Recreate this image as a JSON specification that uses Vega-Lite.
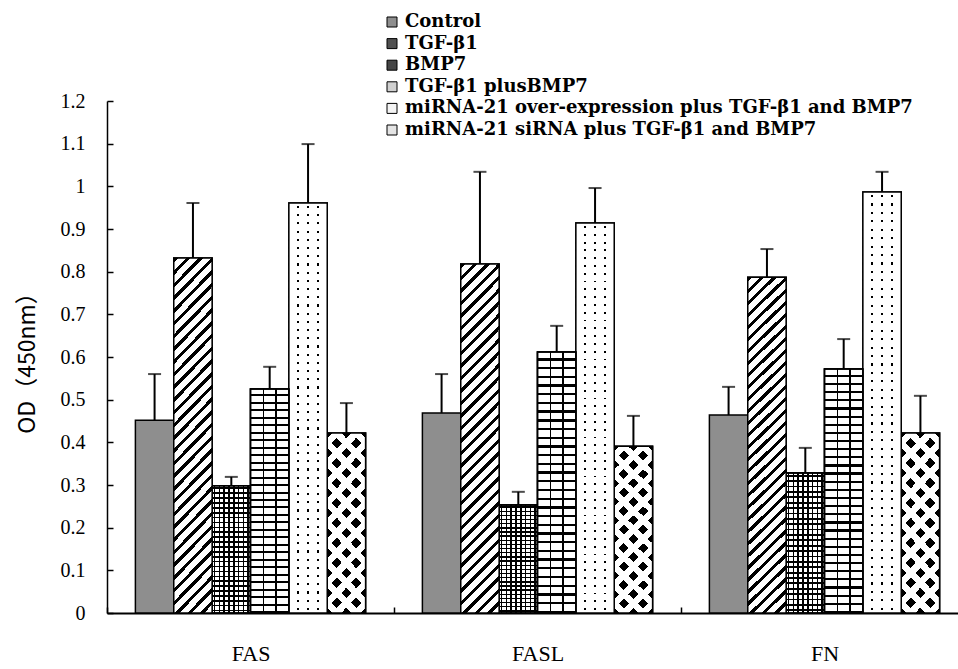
{
  "$schema": "https://vega.github.io/schema/vega-lite/v6.json",
  "autosize": "none",
  "padding": {"left": 107, "top": 101, "right": 0, "bottom": 56},
  "width": 851,
  "height": 512,
  "background": "white",
  "config": {
    "view": {"stroke": null},
    "axis": {"domainColor": "black", "tickColor": "black", "labelColor": "black", "titleColor": "black", "grid": false}
  },
  "data": {
    "values": [
      {"gene": "FAS", "group": "Control", "value": 0.452, "upper": 0.560},
      {"gene": "FAS", "group": "TGF-β1", "value": 0.832, "upper": 0.961},
      {"gene": "FAS", "group": "BMP7", "value": 0.298, "upper": 0.319},
      {"gene": "FAS", "group": "TGF-β1 plusBMP7", "value": 0.525, "upper": 0.577},
      {"gene": "FAS", "group": "miRNA-21 over-expression plus TGF-β1 and BMP7", "value": 0.961, "upper": 1.099},
      {"gene": "FAS", "group": "miRNA-21 siRNA plus TGF-β1 and BMP7", "value": 0.422, "upper": 0.492},
      {"gene": "FASL", "group": "Control", "value": 0.469, "upper": 0.560},
      {"gene": "FASL", "group": "TGF-β1", "value": 0.818, "upper": 1.034},
      {"gene": "FASL", "group": "BMP7", "value": 0.253, "upper": 0.284},
      {"gene": "FASL", "group": "TGF-β1 plusBMP7", "value": 0.612, "upper": 0.673},
      {"gene": "FASL", "group": "miRNA-21 over-expression plus TGF-β1 and BMP7", "value": 0.914, "upper": 0.996},
      {"gene": "FASL", "group": "miRNA-21 siRNA plus TGF-β1 and BMP7", "value": 0.391, "upper": 0.462},
      {"gene": "FN", "group": "Control", "value": 0.464, "upper": 0.530},
      {"gene": "FN", "group": "TGF-β1", "value": 0.787, "upper": 0.853},
      {"gene": "FN", "group": "BMP7", "value": 0.328, "upper": 0.387},
      {"gene": "FN", "group": "TGF-β1 plusBMP7", "value": 0.572, "upper": 0.642},
      {"gene": "FN", "group": "miRNA-21 over-expression plus TGF-β1 and BMP7", "value": 0.987, "upper": 1.034},
      {"gene": "FN", "group": "miRNA-21 siRNA plus TGF-β1 and BMP7", "value": 0.422, "upper": 0.509}
    ]
  },
  "encoding": {
    "x": {
      "field": "gene", "type": "nominal", "sort": ["FAS", "FASL", "FN"],
      "scale": {"range": [0, 861], "paddingInner": 0, "paddingOuter": 0},
      "axis": {
        "title": null, "labelAngle": 0, "tickBand": "extent", "tickSize": -6, "tickWidth": 1.5,
        "domainWidth": 2, "labelFont": "Liberation Serif", "labelFontSize": 22, "labelPadding": 36
      }
    },
    "xOffset": {
      "field": "group", "type": "nominal",
      "sort": ["Control", "TGF-β1", "BMP7", "TGF-β1 plusBMP7", "miRNA-21 over-expression plus TGF-β1 and BMP7", "miRNA-21 siRNA plus TGF-β1 and BMP7"],
      "scale": {"paddingInner": 0, "paddingOuter": 0.74}
    },
    "y": {"field": "value", "type": "quantitative"}
  },
  "layer": [
    {
      "mark": {"type": "bar", "stroke": "black", "strokeWidth": 1.5},
      "encoding": {
        "y": {
          "field": "value", "type": "quantitative",
          "scale": {"domain": [0, 1.2], "nice": false, "zero": true},
          "axis": {
            "title": "OD（450nm）", "titleFont": "Noto Sans CJK SC", "titleFontSize": 23, "titleFontWeight": "normal", "titlePadding": 21,
            "values": [0, 0.1, 0.2, 0.3, 0.4, 0.5, 0.6, 0.7, 0.8, 0.9, 1, 1.1, 1.2], "format": "~g",
            "tickSize": -6, "tickWidth": 1.5, "domainWidth": 1.5,
            "labelFont": "Liberation Serif", "labelFontSize": 20, "labelPadding": 28
          }
        },
        "fill": {
          "field": "group", "type": "nominal",
          "sort": ["Control", "TGF-β1", "BMP7", "TGF-β1 plusBMP7", "miRNA-21 over-expression plus TGF-β1 and BMP7", "miRNA-21 siRNA plus TGF-β1 and BMP7"],
          "scale": {"range": ["#8e8e8e", "#505050", "#454545", "#d0d0d0", "#f4f4f4", "#e4e4e4"]},
          "legend": {
            "orient": "none", "legendX": 276, "legendY": -88, "title": null,
            "symbolType": "square", "symbolSize": 100, "symbolStrokeColor": "black", "symbolStrokeWidth": 1,
            "labelFont": "DejaVu Serif", "labelFontSize": 18, "labelFontWeight": "bold", "labelColor": "black", "labelLimit": 800,
            "rowPadding": 3.6, "labelOffset": 4
          }
        }
      }
    },
    {
      "transform": [{"filter": {"field": "group", "equal": "BMP7"}}],
      "mark": {"type": "bar", "fill": "white", "stroke": "black", "strokeWidth": 1.5}
    },
    {
      "transform": [{"filter": {"field": "group", "equal": "BMP7"}}],
      "mark": {
        "type": "bar", "strokeWidth": 0,
        "fill": {
          "gradient": "linear", "x1": 0, "y1": 0, "x2": 1, "y2": 0,
          "stops": [
            {"offset": 0.0415, "color": "transparent"}, {"offset": 0.0415, "color": "black"}, {"offset": 0.0835, "color": "black"}, {"offset": 0.0835, "color": "transparent"},
            {"offset": 0.1665, "color": "transparent"}, {"offset": 0.1665, "color": "black"}, {"offset": 0.2085, "color": "black"}, {"offset": 0.2085, "color": "transparent"},
            {"offset": 0.2915, "color": "transparent"}, {"offset": 0.2915, "color": "black"}, {"offset": 0.3335, "color": "black"}, {"offset": 0.3335, "color": "transparent"},
            {"offset": 0.4165, "color": "transparent"}, {"offset": 0.4165, "color": "black"}, {"offset": 0.4585, "color": "black"}, {"offset": 0.4585, "color": "transparent"},
            {"offset": 0.5415, "color": "transparent"}, {"offset": 0.5415, "color": "black"}, {"offset": 0.5835, "color": "black"}, {"offset": 0.5835, "color": "transparent"},
            {"offset": 0.6665, "color": "transparent"}, {"offset": 0.6665, "color": "black"}, {"offset": 0.7085, "color": "black"}, {"offset": 0.7085, "color": "transparent"},
            {"offset": 0.7915, "color": "transparent"}, {"offset": 0.7915, "color": "black"}, {"offset": 0.8335, "color": "black"}, {"offset": 0.8335, "color": "transparent"},
            {"offset": 0.9165, "color": "transparent"}, {"offset": 0.9165, "color": "black"}, {"offset": 0.9585, "color": "black"}, {"offset": 0.9585, "color": "transparent"}
          ]
        }
      }
    },
    {
      "transform": [{"filter": {"field": "group", "equal": "BMP7"}}],
      "mark": {
        "type": "bar", "stroke": "black", "strokeWidth": 1.5,
        "fill": {
          "gradient": "linear", "x1": 0, "y1": 0, "x2": 0, "y2": 1,
          "stops": [
            {"offset": 0.0128, "color": "transparent"}, {"offset": 0.0128, "color": "black"}, {"offset": 0.0255, "color": "black"}, {"offset": 0.0255, "color": "transparent"},
            {"offset": 0.0513, "color": "transparent"}, {"offset": 0.0513, "color": "black"}, {"offset": 0.0640, "color": "black"}, {"offset": 0.0640, "color": "transparent"},
            {"offset": 0.0897, "color": "transparent"}, {"offset": 0.0897, "color": "black"}, {"offset": 0.1024, "color": "black"}, {"offset": 0.1024, "color": "transparent"},
            {"offset": 0.1282, "color": "transparent"}, {"offset": 0.1282, "color": "black"}, {"offset": 0.1409, "color": "black"}, {"offset": 0.1409, "color": "transparent"},
            {"offset": 0.1667, "color": "transparent"}, {"offset": 0.1667, "color": "black"}, {"offset": 0.1794, "color": "black"}, {"offset": 0.1794, "color": "transparent"},
            {"offset": 0.2051, "color": "transparent"}, {"offset": 0.2051, "color": "black"}, {"offset": 0.2178, "color": "black"}, {"offset": 0.2178, "color": "transparent"},
            {"offset": 0.2436, "color": "transparent"}, {"offset": 0.2436, "color": "black"}, {"offset": 0.2563, "color": "black"}, {"offset": 0.2563, "color": "transparent"},
            {"offset": 0.2820, "color": "transparent"}, {"offset": 0.2820, "color": "black"}, {"offset": 0.2947, "color": "black"}, {"offset": 0.2947, "color": "transparent"},
            {"offset": 0.3205, "color": "transparent"}, {"offset": 0.3205, "color": "black"}, {"offset": 0.3332, "color": "black"}, {"offset": 0.3332, "color": "transparent"},
            {"offset": 0.3590, "color": "transparent"}, {"offset": 0.3590, "color": "black"}, {"offset": 0.3717, "color": "black"}, {"offset": 0.3717, "color": "transparent"},
            {"offset": 0.3974, "color": "transparent"}, {"offset": 0.3974, "color": "black"}, {"offset": 0.4101, "color": "black"}, {"offset": 0.4101, "color": "transparent"},
            {"offset": 0.4359, "color": "transparent"}, {"offset": 0.4359, "color": "black"}, {"offset": 0.4486, "color": "black"}, {"offset": 0.4486, "color": "transparent"},
            {"offset": 0.4743, "color": "transparent"}, {"offset": 0.4743, "color": "black"}, {"offset": 0.4870, "color": "black"}, {"offset": 0.4870, "color": "transparent"},
            {"offset": 0.5128, "color": "transparent"}, {"offset": 0.5128, "color": "black"}, {"offset": 0.5255, "color": "black"}, {"offset": 0.5255, "color": "transparent"},
            {"offset": 0.5513, "color": "transparent"}, {"offset": 0.5513, "color": "black"}, {"offset": 0.5640, "color": "black"}, {"offset": 0.5640, "color": "transparent"},
            {"offset": 0.5897, "color": "transparent"}, {"offset": 0.5897, "color": "black"}, {"offset": 0.6024, "color": "black"}, {"offset": 0.6024, "color": "transparent"},
            {"offset": 0.6282, "color": "transparent"}, {"offset": 0.6282, "color": "black"}, {"offset": 0.6409, "color": "black"}, {"offset": 0.6409, "color": "transparent"},
            {"offset": 0.6667, "color": "transparent"}, {"offset": 0.6667, "color": "black"}, {"offset": 0.6794, "color": "black"}, {"offset": 0.6794, "color": "transparent"},
            {"offset": 0.7051, "color": "transparent"}, {"offset": 0.7051, "color": "black"}, {"offset": 0.7178, "color": "black"}, {"offset": 0.7178, "color": "transparent"},
            {"offset": 0.7436, "color": "transparent"}, {"offset": 0.7436, "color": "black"}, {"offset": 0.7563, "color": "black"}, {"offset": 0.7563, "color": "transparent"},
            {"offset": 0.7820, "color": "transparent"}, {"offset": 0.7820, "color": "black"}, {"offset": 0.7947, "color": "black"}, {"offset": 0.7947, "color": "transparent"},
            {"offset": 0.8205, "color": "transparent"}, {"offset": 0.8205, "color": "black"}, {"offset": 0.8332, "color": "black"}, {"offset": 0.8332, "color": "transparent"},
            {"offset": 0.8590, "color": "transparent"}, {"offset": 0.8590, "color": "black"}, {"offset": 0.8717, "color": "black"}, {"offset": 0.8717, "color": "transparent"},
            {"offset": 0.8974, "color": "transparent"}, {"offset": 0.8974, "color": "black"}, {"offset": 0.9101, "color": "black"}, {"offset": 0.9101, "color": "transparent"},
            {"offset": 0.9359, "color": "transparent"}, {"offset": 0.9359, "color": "black"}, {"offset": 0.9486, "color": "black"}, {"offset": 0.9486, "color": "transparent"},
            {"offset": 0.9743, "color": "transparent"}, {"offset": 0.9743, "color": "black"}, {"offset": 0.9870, "color": "black"}, {"offset": 0.9870, "color": "transparent"}
          ]
        }
      }
    },
    {
      "transform": [{"filter": {"field": "group", "equal": "miRNA-21 siRNA plus TGF-β1 and BMP7"}}],
      "mark": {"type": "bar", "fill": "black", "strokeWidth": 0}
    },
    {
      "transform": [{"filter": {"field": "group", "equal": "miRNA-21 siRNA plus TGF-β1 and BMP7"}}],
      "mark": {
        "type": "bar", "strokeWidth": 0,
        "fill": {
          "gradient": "linear", "x1": 0, "y1": 0, "x2": 0.2552, "y2": 1.1635,
          "stops": [
            {"offset": 0.0241, "color": "transparent"}, {"offset": 0.0241, "color": "white"}, {"offset": 0.0668, "color": "white"}, {"offset": 0.0668, "color": "transparent"},
            {"offset": 0.1150, "color": "transparent"}, {"offset": 0.1150, "color": "white"}, {"offset": 0.1577, "color": "white"}, {"offset": 0.1577, "color": "transparent"},
            {"offset": 0.2059, "color": "transparent"}, {"offset": 0.2059, "color": "white"}, {"offset": 0.2486, "color": "white"}, {"offset": 0.2486, "color": "transparent"},
            {"offset": 0.2968, "color": "transparent"}, {"offset": 0.2968, "color": "white"}, {"offset": 0.3395, "color": "white"}, {"offset": 0.3395, "color": "transparent"},
            {"offset": 0.3877, "color": "transparent"}, {"offset": 0.3877, "color": "white"}, {"offset": 0.4304, "color": "white"}, {"offset": 0.4304, "color": "transparent"},
            {"offset": 0.4786, "color": "transparent"}, {"offset": 0.4786, "color": "white"}, {"offset": 0.5213, "color": "white"}, {"offset": 0.5213, "color": "transparent"},
            {"offset": 0.5695, "color": "transparent"}, {"offset": 0.5695, "color": "white"}, {"offset": 0.6122, "color": "white"}, {"offset": 0.6122, "color": "transparent"},
            {"offset": 0.6604, "color": "transparent"}, {"offset": 0.6604, "color": "white"}, {"offset": 0.7031, "color": "white"}, {"offset": 0.7031, "color": "transparent"},
            {"offset": 0.7513, "color": "transparent"}, {"offset": 0.7513, "color": "white"}, {"offset": 0.7940, "color": "white"}, {"offset": 0.7940, "color": "transparent"},
            {"offset": 0.8422, "color": "transparent"}, {"offset": 0.8422, "color": "white"}, {"offset": 0.8849, "color": "white"}, {"offset": 0.8849, "color": "transparent"},
            {"offset": 0.9331, "color": "transparent"}, {"offset": 0.9331, "color": "white"}, {"offset": 0.9758, "color": "white"}, {"offset": 0.9758, "color": "transparent"}
          ]
        }
      }
    },
    {
      "transform": [{"filter": {"field": "group", "equal": "miRNA-21 siRNA plus TGF-β1 and BMP7"}}],
      "mark": {
        "type": "bar", "stroke": "black", "strokeWidth": 1.5,
        "fill": {
          "gradient": "linear", "x1": 1, "y1": 0, "x2": 0.7448, "y2": 1.1635,
          "stops": [
            {"offset": 0.0241, "color": "transparent"}, {"offset": 0.0241, "color": "white"}, {"offset": 0.0668, "color": "white"}, {"offset": 0.0668, "color": "transparent"},
            {"offset": 0.1150, "color": "transparent"}, {"offset": 0.1150, "color": "white"}, {"offset": 0.1577, "color": "white"}, {"offset": 0.1577, "color": "transparent"},
            {"offset": 0.2059, "color": "transparent"}, {"offset": 0.2059, "color": "white"}, {"offset": 0.2486, "color": "white"}, {"offset": 0.2486, "color": "transparent"},
            {"offset": 0.2968, "color": "transparent"}, {"offset": 0.2968, "color": "white"}, {"offset": 0.3395, "color": "white"}, {"offset": 0.3395, "color": "transparent"},
            {"offset": 0.3877, "color": "transparent"}, {"offset": 0.3877, "color": "white"}, {"offset": 0.4304, "color": "white"}, {"offset": 0.4304, "color": "transparent"},
            {"offset": 0.4786, "color": "transparent"}, {"offset": 0.4786, "color": "white"}, {"offset": 0.5213, "color": "white"}, {"offset": 0.5213, "color": "transparent"},
            {"offset": 0.5695, "color": "transparent"}, {"offset": 0.5695, "color": "white"}, {"offset": 0.6122, "color": "white"}, {"offset": 0.6122, "color": "transparent"},
            {"offset": 0.6604, "color": "transparent"}, {"offset": 0.6604, "color": "white"}, {"offset": 0.7031, "color": "white"}, {"offset": 0.7031, "color": "transparent"},
            {"offset": 0.7513, "color": "transparent"}, {"offset": 0.7513, "color": "white"}, {"offset": 0.7940, "color": "white"}, {"offset": 0.7940, "color": "transparent"},
            {"offset": 0.8422, "color": "transparent"}, {"offset": 0.8422, "color": "white"}, {"offset": 0.8849, "color": "white"}, {"offset": 0.8849, "color": "transparent"},
            {"offset": 0.9331, "color": "transparent"}, {"offset": 0.9331, "color": "white"}, {"offset": 0.9758, "color": "white"}, {"offset": 0.9758, "color": "transparent"}
          ]
        }
      }
    },
    {
      "transform": [{"filter": {"field": "group", "equal": "miRNA-21 over-expression plus TGF-β1 and BMP7"}}],
      "mark": {"type": "bar", "fill": "black", "strokeWidth": 0}
    },
    {
      "transform": [{"filter": {"field": "group", "equal": "miRNA-21 over-expression plus TGF-β1 and BMP7"}}],
      "mark": {
        "type": "bar", "strokeWidth": 0,
        "fill": {
          "gradient": "linear", "x1": 0, "y1": 0, "x2": 1, "y2": 0,
          "stops": [
            {"offset": 0, "color": "white"}, {"offset": 0.224, "color": "white"}, {"offset": 0.224, "color": "transparent"}, {"offset": 0.276, "color": "transparent"},
            {"offset": 0.276, "color": "white"}, {"offset": 0.474, "color": "white"}, {"offset": 0.474, "color": "transparent"}, {"offset": 0.526, "color": "transparent"},
            {"offset": 0.526, "color": "white"}, {"offset": 0.724, "color": "white"}, {"offset": 0.724, "color": "transparent"}, {"offset": 0.776, "color": "transparent"},
            {"offset": 0.776, "color": "white"}, {"offset": 1, "color": "white"}
          ]
        }
      }
    },
    {
      "transform": [{"filter": {"field": "group", "equal": "miRNA-21 over-expression plus TGF-β1 and BMP7"}}],
      "mark": {
        "type": "bar", "stroke": "black", "strokeWidth": 1.5,
        "fill": {
          "gradient": "linear", "x1": 0, "y1": 0, "x2": 0, "y2": 1,
          "stops": [
            {"offset": 0.0075, "color": "white"}, {"offset": 0.0075, "color": "transparent"}, {"offset": 0.0125, "color": "transparent"}, {"offset": 0.0125, "color": "white"},
            {"offset": 0.0275, "color": "white"}, {"offset": 0.0275, "color": "transparent"}, {"offset": 0.0325, "color": "transparent"}, {"offset": 0.0325, "color": "white"},
            {"offset": 0.0475, "color": "white"}, {"offset": 0.0475, "color": "transparent"}, {"offset": 0.0525, "color": "transparent"}, {"offset": 0.0525, "color": "white"},
            {"offset": 0.0675, "color": "white"}, {"offset": 0.0675, "color": "transparent"}, {"offset": 0.0725, "color": "transparent"}, {"offset": 0.0725, "color": "white"},
            {"offset": 0.0875, "color": "white"}, {"offset": 0.0875, "color": "transparent"}, {"offset": 0.0925, "color": "transparent"}, {"offset": 0.0925, "color": "white"},
            {"offset": 0.1075, "color": "white"}, {"offset": 0.1075, "color": "transparent"}, {"offset": 0.1125, "color": "transparent"}, {"offset": 0.1125, "color": "white"},
            {"offset": 0.1275, "color": "white"}, {"offset": 0.1275, "color": "transparent"}, {"offset": 0.1325, "color": "transparent"}, {"offset": 0.1325, "color": "white"},
            {"offset": 0.1475, "color": "white"}, {"offset": 0.1475, "color": "transparent"}, {"offset": 0.1525, "color": "transparent"}, {"offset": 0.1525, "color": "white"},
            {"offset": 0.1675, "color": "white"}, {"offset": 0.1675, "color": "transparent"}, {"offset": 0.1725, "color": "transparent"}, {"offset": 0.1725, "color": "white"},
            {"offset": 0.1875, "color": "white"}, {"offset": 0.1875, "color": "transparent"}, {"offset": 0.1925, "color": "transparent"}, {"offset": 0.1925, "color": "white"},
            {"offset": 0.2075, "color": "white"}, {"offset": 0.2075, "color": "transparent"}, {"offset": 0.2125, "color": "transparent"}, {"offset": 0.2125, "color": "white"},
            {"offset": 0.2275, "color": "white"}, {"offset": 0.2275, "color": "transparent"}, {"offset": 0.2325, "color": "transparent"}, {"offset": 0.2325, "color": "white"},
            {"offset": 0.2475, "color": "white"}, {"offset": 0.2475, "color": "transparent"}, {"offset": 0.2525, "color": "transparent"}, {"offset": 0.2525, "color": "white"},
            {"offset": 0.2675, "color": "white"}, {"offset": 0.2675, "color": "transparent"}, {"offset": 0.2725, "color": "transparent"}, {"offset": 0.2725, "color": "white"},
            {"offset": 0.2875, "color": "white"}, {"offset": 0.2875, "color": "transparent"}, {"offset": 0.2925, "color": "transparent"}, {"offset": 0.2925, "color": "white"},
            {"offset": 0.3075, "color": "white"}, {"offset": 0.3075, "color": "transparent"}, {"offset": 0.3125, "color": "transparent"}, {"offset": 0.3125, "color": "white"},
            {"offset": 0.3275, "color": "white"}, {"offset": 0.3275, "color": "transparent"}, {"offset": 0.3325, "color": "transparent"}, {"offset": 0.3325, "color": "white"},
            {"offset": 0.3475, "color": "white"}, {"offset": 0.3475, "color": "transparent"}, {"offset": 0.3525, "color": "transparent"}, {"offset": 0.3525, "color": "white"},
            {"offset": 0.3675, "color": "white"}, {"offset": 0.3675, "color": "transparent"}, {"offset": 0.3725, "color": "transparent"}, {"offset": 0.3725, "color": "white"},
            {"offset": 0.3875, "color": "white"}, {"offset": 0.3875, "color": "transparent"}, {"offset": 0.3925, "color": "transparent"}, {"offset": 0.3925, "color": "white"},
            {"offset": 0.4075, "color": "white"}, {"offset": 0.4075, "color": "transparent"}, {"offset": 0.4125, "color": "transparent"}, {"offset": 0.4125, "color": "white"},
            {"offset": 0.4275, "color": "white"}, {"offset": 0.4275, "color": "transparent"}, {"offset": 0.4325, "color": "transparent"}, {"offset": 0.4325, "color": "white"},
            {"offset": 0.4475, "color": "white"}, {"offset": 0.4475, "color": "transparent"}, {"offset": 0.4525, "color": "transparent"}, {"offset": 0.4525, "color": "white"},
            {"offset": 0.4675, "color": "white"}, {"offset": 0.4675, "color": "transparent"}, {"offset": 0.4725, "color": "transparent"}, {"offset": 0.4725, "color": "white"},
            {"offset": 0.4875, "color": "white"}, {"offset": 0.4875, "color": "transparent"}, {"offset": 0.4925, "color": "transparent"}, {"offset": 0.4925, "color": "white"},
            {"offset": 0.5075, "color": "white"}, {"offset": 0.5075, "color": "transparent"}, {"offset": 0.5125, "color": "transparent"}, {"offset": 0.5125, "color": "white"},
            {"offset": 0.5275, "color": "white"}, {"offset": 0.5275, "color": "transparent"}, {"offset": 0.5325, "color": "transparent"}, {"offset": 0.5325, "color": "white"},
            {"offset": 0.5475, "color": "white"}, {"offset": 0.5475, "color": "transparent"}, {"offset": 0.5525, "color": "transparent"}, {"offset": 0.5525, "color": "white"},
            {"offset": 0.5675, "color": "white"}, {"offset": 0.5675, "color": "transparent"}, {"offset": 0.5725, "color": "transparent"}, {"offset": 0.5725, "color": "white"},
            {"offset": 0.5875, "color": "white"}, {"offset": 0.5875, "color": "transparent"}, {"offset": 0.5925, "color": "transparent"}, {"offset": 0.5925, "color": "white"},
            {"offset": 0.6075, "color": "white"}, {"offset": 0.6075, "color": "transparent"}, {"offset": 0.6125, "color": "transparent"}, {"offset": 0.6125, "color": "white"},
            {"offset": 0.6275, "color": "white"}, {"offset": 0.6275, "color": "transparent"}, {"offset": 0.6325, "color": "transparent"}, {"offset": 0.6325, "color": "white"},
            {"offset": 0.6475, "color": "white"}, {"offset": 0.6475, "color": "transparent"}, {"offset": 0.6525, "color": "transparent"}, {"offset": 0.6525, "color": "white"},
            {"offset": 0.6675, "color": "white"}, {"offset": 0.6675, "color": "transparent"}, {"offset": 0.6725, "color": "transparent"}, {"offset": 0.6725, "color": "white"},
            {"offset": 0.6875, "color": "white"}, {"offset": 0.6875, "color": "transparent"}, {"offset": 0.6925, "color": "transparent"}, {"offset": 0.6925, "color": "white"},
            {"offset": 0.7075, "color": "white"}, {"offset": 0.7075, "color": "transparent"}, {"offset": 0.7125, "color": "transparent"}, {"offset": 0.7125, "color": "white"},
            {"offset": 0.7275, "color": "white"}, {"offset": 0.7275, "color": "transparent"}, {"offset": 0.7325, "color": "transparent"}, {"offset": 0.7325, "color": "white"},
            {"offset": 0.7475, "color": "white"}, {"offset": 0.7475, "color": "transparent"}, {"offset": 0.7525, "color": "transparent"}, {"offset": 0.7525, "color": "white"},
            {"offset": 0.7675, "color": "white"}, {"offset": 0.7675, "color": "transparent"}, {"offset": 0.7725, "color": "transparent"}, {"offset": 0.7725, "color": "white"},
            {"offset": 0.7875, "color": "white"}, {"offset": 0.7875, "color": "transparent"}, {"offset": 0.7925, "color": "transparent"}, {"offset": 0.7925, "color": "white"},
            {"offset": 0.8075, "color": "white"}, {"offset": 0.8075, "color": "transparent"}, {"offset": 0.8125, "color": "transparent"}, {"offset": 0.8125, "color": "white"},
            {"offset": 0.8275, "color": "white"}, {"offset": 0.8275, "color": "transparent"}, {"offset": 0.8325, "color": "transparent"}, {"offset": 0.8325, "color": "white"},
            {"offset": 0.8475, "color": "white"}, {"offset": 0.8475, "color": "transparent"}, {"offset": 0.8525, "color": "transparent"}, {"offset": 0.8525, "color": "white"},
            {"offset": 0.8675, "color": "white"}, {"offset": 0.8675, "color": "transparent"}, {"offset": 0.8725, "color": "transparent"}, {"offset": 0.8725, "color": "white"},
            {"offset": 0.8875, "color": "white"}, {"offset": 0.8875, "color": "transparent"}, {"offset": 0.8925, "color": "transparent"}, {"offset": 0.8925, "color": "white"},
            {"offset": 0.9075, "color": "white"}, {"offset": 0.9075, "color": "transparent"}, {"offset": 0.9125, "color": "transparent"}, {"offset": 0.9125, "color": "white"},
            {"offset": 0.9275, "color": "white"}, {"offset": 0.9275, "color": "transparent"}, {"offset": 0.9325, "color": "transparent"}, {"offset": 0.9325, "color": "white"},
            {"offset": 0.9475, "color": "white"}, {"offset": 0.9475, "color": "transparent"}, {"offset": 0.9525, "color": "transparent"}, {"offset": 0.9525, "color": "white"},
            {"offset": 0.9675, "color": "white"}, {"offset": 0.9675, "color": "transparent"}, {"offset": 0.9725, "color": "transparent"}, {"offset": 0.9725, "color": "white"},
            {"offset": 0.9875, "color": "white"}, {"offset": 0.9875, "color": "transparent"}, {"offset": 0.9925, "color": "transparent"}, {"offset": 0.9925, "color": "white"}
          ]
        }
      }
    },
    {
      "transform": [{"filter": {"field": "group", "equal": "TGF-β1"}}],
      "mark": {
        "type": "bar", "stroke": "black", "strokeWidth": 1.5,
        "fill": {
          "gradient": "linear", "x1": 0, "y1": 0, "x2": 0.1215, "y2": 1.097,
          "stops": [
            {"offset": 0, "color": "black"}, {"offset": 0.0116, "color": "black"}, {"offset": 0.0116, "color": "white"}, {"offset": 0.0323, "color": "white"},
            {"offset": 0.0323, "color": "black"}, {"offset": 0.0439, "color": "black"}, {"offset": 0.0439, "color": "white"}, {"offset": 0.0645, "color": "white"},
            {"offset": 0.0645, "color": "black"}, {"offset": 0.0761, "color": "black"}, {"offset": 0.0761, "color": "white"}, {"offset": 0.0968, "color": "white"},
            {"offset": 0.0968, "color": "black"}, {"offset": 0.1084, "color": "black"}, {"offset": 0.1084, "color": "white"}, {"offset": 0.1290, "color": "white"},
            {"offset": 0.1290, "color": "black"}, {"offset": 0.1406, "color": "black"}, {"offset": 0.1406, "color": "white"}, {"offset": 0.1613, "color": "white"},
            {"offset": 0.1613, "color": "black"}, {"offset": 0.1729, "color": "black"}, {"offset": 0.1729, "color": "white"}, {"offset": 0.1935, "color": "white"},
            {"offset": 0.1935, "color": "black"}, {"offset": 0.2052, "color": "black"}, {"offset": 0.2052, "color": "white"}, {"offset": 0.2258, "color": "white"},
            {"offset": 0.2258, "color": "black"}, {"offset": 0.2374, "color": "black"}, {"offset": 0.2374, "color": "white"}, {"offset": 0.2581, "color": "white"},
            {"offset": 0.2581, "color": "black"}, {"offset": 0.2697, "color": "black"}, {"offset": 0.2697, "color": "white"}, {"offset": 0.2903, "color": "white"},
            {"offset": 0.2903, "color": "black"}, {"offset": 0.3019, "color": "black"}, {"offset": 0.3019, "color": "white"}, {"offset": 0.3226, "color": "white"},
            {"offset": 0.3226, "color": "black"}, {"offset": 0.3342, "color": "black"}, {"offset": 0.3342, "color": "white"}, {"offset": 0.3548, "color": "white"},
            {"offset": 0.3548, "color": "black"}, {"offset": 0.3665, "color": "black"}, {"offset": 0.3665, "color": "white"}, {"offset": 0.3871, "color": "white"},
            {"offset": 0.3871, "color": "black"}, {"offset": 0.3987, "color": "black"}, {"offset": 0.3987, "color": "white"}, {"offset": 0.4194, "color": "white"},
            {"offset": 0.4194, "color": "black"}, {"offset": 0.4310, "color": "black"}, {"offset": 0.4310, "color": "white"}, {"offset": 0.4516, "color": "white"},
            {"offset": 0.4516, "color": "black"}, {"offset": 0.4632, "color": "black"}, {"offset": 0.4632, "color": "white"}, {"offset": 0.4839, "color": "white"},
            {"offset": 0.4839, "color": "black"}, {"offset": 0.4955, "color": "black"}, {"offset": 0.4955, "color": "white"}, {"offset": 0.5161, "color": "white"},
            {"offset": 0.5161, "color": "black"}, {"offset": 0.5277, "color": "black"}, {"offset": 0.5277, "color": "white"}, {"offset": 0.5484, "color": "white"},
            {"offset": 0.5484, "color": "black"}, {"offset": 0.5600, "color": "black"}, {"offset": 0.5600, "color": "white"}, {"offset": 0.5806, "color": "white"},
            {"offset": 0.5806, "color": "black"}, {"offset": 0.5923, "color": "black"}, {"offset": 0.5923, "color": "white"}, {"offset": 0.6129, "color": "white"},
            {"offset": 0.6129, "color": "black"}, {"offset": 0.6245, "color": "black"}, {"offset": 0.6245, "color": "white"}, {"offset": 0.6452, "color": "white"},
            {"offset": 0.6452, "color": "black"}, {"offset": 0.6568, "color": "black"}, {"offset": 0.6568, "color": "white"}, {"offset": 0.6774, "color": "white"},
            {"offset": 0.6774, "color": "black"}, {"offset": 0.6890, "color": "black"}, {"offset": 0.6890, "color": "white"}, {"offset": 0.7097, "color": "white"},
            {"offset": 0.7097, "color": "black"}, {"offset": 0.7213, "color": "black"}, {"offset": 0.7213, "color": "white"}, {"offset": 0.7419, "color": "white"},
            {"offset": 0.7419, "color": "black"}, {"offset": 0.7535, "color": "black"}, {"offset": 0.7535, "color": "white"}, {"offset": 0.7742, "color": "white"},
            {"offset": 0.7742, "color": "black"}, {"offset": 0.7858, "color": "black"}, {"offset": 0.7858, "color": "white"}, {"offset": 0.8065, "color": "white"},
            {"offset": 0.8065, "color": "black"}, {"offset": 0.8181, "color": "black"}, {"offset": 0.8181, "color": "white"}, {"offset": 0.8387, "color": "white"},
            {"offset": 0.8387, "color": "black"}, {"offset": 0.8503, "color": "black"}, {"offset": 0.8503, "color": "white"}, {"offset": 0.8710, "color": "white"},
            {"offset": 0.8710, "color": "black"}, {"offset": 0.8826, "color": "black"}, {"offset": 0.8826, "color": "white"}, {"offset": 0.9032, "color": "white"},
            {"offset": 0.9032, "color": "black"}, {"offset": 0.9148, "color": "black"}, {"offset": 0.9148, "color": "white"}, {"offset": 0.9355, "color": "white"},
            {"offset": 0.9355, "color": "black"}, {"offset": 0.9471, "color": "black"}, {"offset": 0.9471, "color": "white"}, {"offset": 0.9677, "color": "white"},
            {"offset": 0.9677, "color": "black"}, {"offset": 0.9794, "color": "black"}, {"offset": 0.9794, "color": "white"}, {"offset": 1, "color": "white"}
          ]
        }
      }
    },
    {
      "transform": [{"filter": {"field": "group", "equal": "TGF-β1 plusBMP7"}}],
      "mark": {
        "type": "bar", "stroke": "black", "strokeWidth": 1.5,
        "fill": {
          "gradient": "linear", "x1": 0, "y1": 0, "x2": 0, "y2": 1,
          "stops": [
            {"offset": 0.0243, "color": "white"}, {"offset": 0.0243, "color": "black"}, {"offset": 0.0333, "color": "black"}, {"offset": 0.0333, "color": "white"},
            {"offset": 0.0577, "color": "white"}, {"offset": 0.0577, "color": "black"}, {"offset": 0.0667, "color": "black"}, {"offset": 0.0667, "color": "white"},
            {"offset": 0.0910, "color": "white"}, {"offset": 0.0910, "color": "black"}, {"offset": 0.1000, "color": "black"}, {"offset": 0.1000, "color": "white"},
            {"offset": 0.1243, "color": "white"}, {"offset": 0.1243, "color": "black"}, {"offset": 0.1333, "color": "black"}, {"offset": 0.1333, "color": "white"},
            {"offset": 0.1577, "color": "white"}, {"offset": 0.1577, "color": "black"}, {"offset": 0.1667, "color": "black"}, {"offset": 0.1667, "color": "white"},
            {"offset": 0.1910, "color": "white"}, {"offset": 0.1910, "color": "black"}, {"offset": 0.2000, "color": "black"}, {"offset": 0.2000, "color": "white"},
            {"offset": 0.2243, "color": "white"}, {"offset": 0.2243, "color": "black"}, {"offset": 0.2333, "color": "black"}, {"offset": 0.2333, "color": "white"},
            {"offset": 0.2577, "color": "white"}, {"offset": 0.2577, "color": "black"}, {"offset": 0.2667, "color": "black"}, {"offset": 0.2667, "color": "white"},
            {"offset": 0.2910, "color": "white"}, {"offset": 0.2910, "color": "black"}, {"offset": 0.3000, "color": "black"}, {"offset": 0.3000, "color": "white"},
            {"offset": 0.3243, "color": "white"}, {"offset": 0.3243, "color": "black"}, {"offset": 0.3333, "color": "black"}, {"offset": 0.3333, "color": "white"},
            {"offset": 0.3577, "color": "white"}, {"offset": 0.3577, "color": "black"}, {"offset": 0.3667, "color": "black"}, {"offset": 0.3667, "color": "white"},
            {"offset": 0.3910, "color": "white"}, {"offset": 0.3910, "color": "black"}, {"offset": 0.4000, "color": "black"}, {"offset": 0.4000, "color": "white"},
            {"offset": 0.4243, "color": "white"}, {"offset": 0.4243, "color": "black"}, {"offset": 0.4333, "color": "black"}, {"offset": 0.4333, "color": "white"},
            {"offset": 0.4577, "color": "white"}, {"offset": 0.4577, "color": "black"}, {"offset": 0.4667, "color": "black"}, {"offset": 0.4667, "color": "white"},
            {"offset": 0.4910, "color": "white"}, {"offset": 0.4910, "color": "black"}, {"offset": 0.5000, "color": "black"}, {"offset": 0.5000, "color": "white"},
            {"offset": 0.5243, "color": "white"}, {"offset": 0.5243, "color": "black"}, {"offset": 0.5333, "color": "black"}, {"offset": 0.5333, "color": "white"},
            {"offset": 0.5577, "color": "white"}, {"offset": 0.5577, "color": "black"}, {"offset": 0.5667, "color": "black"}, {"offset": 0.5667, "color": "white"},
            {"offset": 0.5910, "color": "white"}, {"offset": 0.5910, "color": "black"}, {"offset": 0.6000, "color": "black"}, {"offset": 0.6000, "color": "white"},
            {"offset": 0.6243, "color": "white"}, {"offset": 0.6243, "color": "black"}, {"offset": 0.6333, "color": "black"}, {"offset": 0.6333, "color": "white"},
            {"offset": 0.6577, "color": "white"}, {"offset": 0.6577, "color": "black"}, {"offset": 0.6667, "color": "black"}, {"offset": 0.6667, "color": "white"},
            {"offset": 0.6910, "color": "white"}, {"offset": 0.6910, "color": "black"}, {"offset": 0.7000, "color": "black"}, {"offset": 0.7000, "color": "white"},
            {"offset": 0.7243, "color": "white"}, {"offset": 0.7243, "color": "black"}, {"offset": 0.7333, "color": "black"}, {"offset": 0.7333, "color": "white"},
            {"offset": 0.7577, "color": "white"}, {"offset": 0.7577, "color": "black"}, {"offset": 0.7667, "color": "black"}, {"offset": 0.7667, "color": "white"},
            {"offset": 0.7910, "color": "white"}, {"offset": 0.7910, "color": "black"}, {"offset": 0.8000, "color": "black"}, {"offset": 0.8000, "color": "white"},
            {"offset": 0.8243, "color": "white"}, {"offset": 0.8243, "color": "black"}, {"offset": 0.8333, "color": "black"}, {"offset": 0.8333, "color": "white"},
            {"offset": 0.8577, "color": "white"}, {"offset": 0.8577, "color": "black"}, {"offset": 0.8667, "color": "black"}, {"offset": 0.8667, "color": "white"},
            {"offset": 0.8910, "color": "white"}, {"offset": 0.8910, "color": "black"}, {"offset": 0.9000, "color": "black"}, {"offset": 0.9000, "color": "white"},
            {"offset": 0.9243, "color": "white"}, {"offset": 0.9243, "color": "black"}, {"offset": 0.9333, "color": "black"}, {"offset": 0.9333, "color": "white"},
            {"offset": 0.9577, "color": "white"}, {"offset": 0.9577, "color": "black"}, {"offset": 0.9667, "color": "black"}, {"offset": 0.9667, "color": "white"},
            {"offset": 0.9910, "color": "white"}, {"offset": 0.9910, "color": "black"}, {"offset": 1, "color": "black"}
          ]
        }
      }
    },
    {
      "transform": [{"filter": {"field": "group", "equal": "TGF-β1 plusBMP7"}}],
      "mark": {
        "type": "bar", "stroke": "black", "strokeWidth": 1.5,
        "fill": {
          "gradient": "linear", "x1": 0, "y1": 0, "x2": 1, "y2": 0,
          "stops": [
            {"offset": 0.3137, "color": "transparent"}, {"offset": 0.3137, "color": "black"}, {"offset": 0.3529, "color": "black"}, {"offset": 0.3529, "color": "transparent"},
            {"offset": 0.6471, "color": "transparent"}, {"offset": 0.6471, "color": "black"}, {"offset": 0.6863, "color": "black"}, {"offset": 0.6863, "color": "transparent"}
          ]
        }
      }
    },
    {
      "mark": {"type": "rule", "color": "black", "strokeWidth": 2},
      "encoding": {
        "y": {"field": "value", "type": "quantitative"},
        "y2": {"field": "upper"}
      }
    },
    {
      "mark": {"type": "tick", "color": "black", "size": 13, "thickness": 2},
      "encoding": {"y": {"field": "upper", "type": "quantitative"}}
    }
  ]
}
